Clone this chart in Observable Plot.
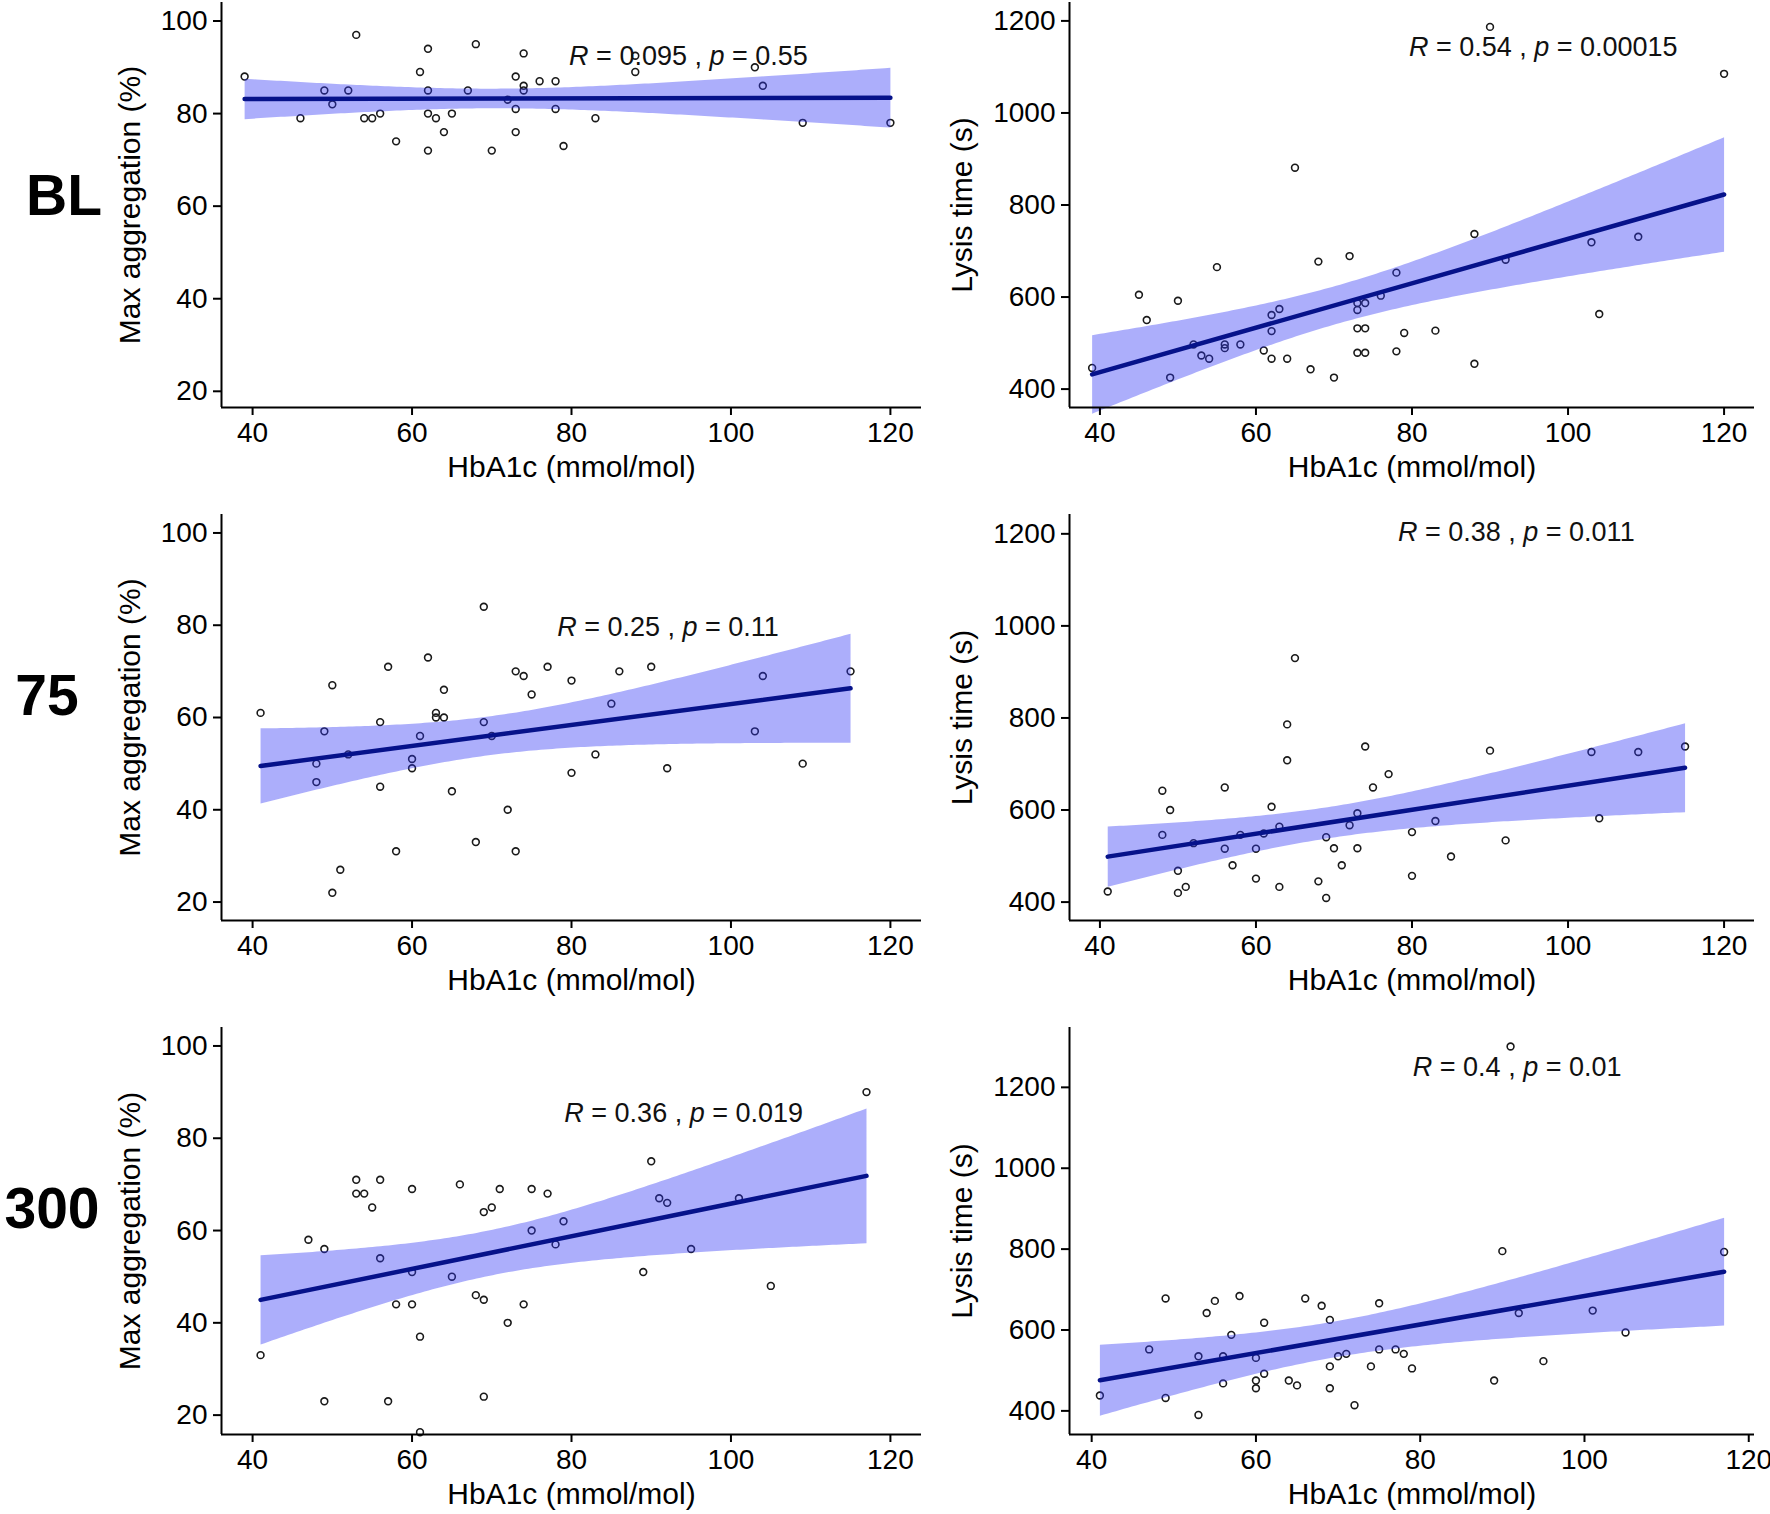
<!DOCTYPE html>
<html>
<head>
<meta charset="utf-8">
<script src="https://cdn.jsdelivr.net/npm/d3@7"></script>
<script src="https://cdn.jsdelivr.net/npm/@observablehq/plot@0.6"></script>
<style>
  html, body { margin: 0; padding: 0; background: #fff; }
  body { width: 1770px; height: 1514px; position: relative; overflow: hidden;
         font-family: "Liberation Sans", Arial, Helvetica, sans-serif; }
  .panel { position: absolute; }
  .rowlab { position: absolute; font-weight: bold; font-size: 57px; line-height: 1;
            transform: translate(-50%, -50%); color: #000; white-space: nowrap; }
</style>
</head>
<body>
<div id="root"></div>
<script>
// ---- categories / labels ----
const rowLabels = ["BL", "75", "300"];
const xTitle = "HbA1c (mmol/mol)";
const yTitles = ["Max aggregation (%)", "Lysis time (s)"];
const xTicks = [40, 60, 80, 100, 120];
const aggTicks = [20, 40, 60, 80, 100];
const lysTicks = [400, 600, 800, 1000, 1200];
const statLabels = [
  "R = 0.095 , p = 0.55",
  "R = 0.54 , p = 0.00015",
  "R = 0.25 , p = 0.11",
  "R = 0.38 , p = 0.011",
  "R = 0.36 , p = 0.019",
  "R = 0.4 , p = 0.01"
];

// ---- BL ----
const blAggX = [39,46,49,50,52,53,54,55,56,58,61,62,62,62,62,63,64,65,67,68,70,72,73,73,73,74,74,74,76,78,78,79,83,88,88,103,104,109,120];
const blAggY = [88,79,85,82,85,97,79,79,80,74,89,94,85,80,72,79,76,80,85,95,72,83,88,81,76,93,86,85,87,87,81,73,79,89,92.5,90,86,78,78];
const blLysX = [39,45,46,49,50,52,53,54,55,56,56,58,61,62,62,62,63,64,65,67,68,70,72,73,73,73,73,74,74,74,76,78,78,79,83,88,88,90,92,103,104,109,120];
const blLysY = [446,605,550,425,592,497,473,466,665,497,489,497,484,561,526,466,574,466,881,443,677,425,689,587,572,532,479,587,532,479,603,653,482,522,527,737,455,1187,681,719,563,731,1085];

// ---- 75 ----
const r75AggX = [41,48,48,49,50,50,51,52,56,56,57,58,60,60,61,62,63,63,64,64,65,68,69,69,70,72,73,73,74,75,77,80,80,83,85,86,90,92,103,104,109,115];
const r75AggY = [61,50,46,57,67,22,27,52,59,45,71,31,51,49,56,73,61,60,66,60,44,33,84,59,56,40,70,31,69,65,71,68,48,52,63,70,71,49,57,69,50,70];
const r75LysX = [41,48,48,49,50,50,51,52,56,56,57,58,60,60,61,62,63,63,64,64,65,68,69,69,70,71,72,73,73,74,75,77,80,80,83,85,90,92,103,104,109,115];
const r75LysY = [423,642,546,600,468,420,433,528,649,516,480,546,516,451,549,607,564,433,786,708,930,445,541,409,517,480,567,593,517,738,649,678,552,457,576,499,729,534,726,582,726,738];

// ---- 300 ----
const r300AggX = [41,47,49,49,53,53,54,55,56,56,57,58,60,60,60,61,61,65,66,68,69,69,69,70,71,72,74,75,75,77,78,79,89,90,91,92,95,101,105,117];
const r300AggY = [33,58,56,23,71,68,68,65,71,54,23,44,69,51,44,37,16.3,50,70,46,64,45,24,65,69,40,44,69,60,68,57,62,51,75,67,66,56,67,48,90];
const r300LysX = [41,47,49,49,53,53,54,55,56,56,57,58,60,60,60,61,61,64,65,66,68,69,69,69,70,71,72,74,75,75,77,78,79,89,90,91,92,95,101,105,117];
const r300LysY = [438,552,678,432,535,390,642,672,535,468,588,684,531,475,456,618,492,475,463,678,660,625,510,456,535,541,414,510,666,552,552,541,505,475,795,1301,642,523,648,594,793];

// ---- layout ----
const rowTop = [2, 514, 1027];
const rowBottom = [407, 920, 1434];
const colLeft = [221, 1069];
const colRight = [921, 1754];
const rowLabelPos = [[64, 195], [47, 695], [52, 1208]];

const panels = [
  {row: 0, col: 0, x: blAggX, y: blAggY, xDomain: [36.1, 123.9], yDomain: [16.5, 104], yTicks: aggTicks, stat: statLabels[0], lx: 79.7, ly: 92.3},
  {row: 0, col: 1, x: blLysX, y: blLysY, xDomain: [36.1, 123.9], yDomain: [360, 1240], yTicks: lysTicks, stat: statLabels[1], lx: 79.6, ly: 1143},
  {row: 1, col: 0, x: r75AggX, y: r75AggY, xDomain: [36.1, 123.9], yDomain: [16, 104], yTicks: aggTicks, stat: statLabels[2], lx: 78.2, ly: 79.6},
  {row: 1, col: 1, x: r75LysX, y: r75LysY, xDomain: [36.1, 123.9], yDomain: [360, 1242], yTicks: lysTicks, stat: statLabels[3], lx: 78.2, ly: 1203},
  {row: 2, col: 0, x: r300AggX, y: r300AggY, xDomain: [36.1, 123.9], yDomain: [15.8, 104], yTicks: aggTicks, stat: statLabels[4], lx: 79.1, ly: 85.3},
  {row: 2, col: 1, x: r300LysX, y: r300LysY, xDomain: [37.3, 120.7], yDomain: [341.6, 1348], yTicks: lysTicks, stat: statLabels[5], lx: 79.1, ly: 1250}
];

const root = document.getElementById("root");
const FONT = "Liberation Sans, Arial, Helvetica, sans-serif";

for (const p of panels) {
  const data = p.x.map((d, i) => ({x: d, y: p.y[i]}));
  const svgLeft = p.col === 0 ? 100 : 919;
  const ml = colLeft[p.col] - svgLeft;
  const mr = p.col === 0 ? 8 : 1770 - colRight[p.col];
  const mt = p.row === 0 ? 2 : 10;
  const mb = 88;
  const fw = colRight[p.col] - colLeft[p.col];
  const fh = rowBottom[p.row] - rowTop[p.row];
  const chart = Plot.plot({
    width: ml + fw + mr,
    height: mt + fh + mb,
    marginLeft: ml, marginRight: mr, marginTop: mt, marginBottom: mb,
    style: {fontFamily: FONT, color: "#000", background: "transparent", overflow: "visible"},
    x: {domain: p.xDomain},
    y: {domain: p.yDomain},
    marks: [
      Plot.dot(data, {x: "x", y: "y", r: 3.4, stroke: "#1a1a1a", strokeWidth: 1.6, fill: "none"}),
      Plot.linearRegressionY(data, {x: "x", y: "y", ci: 0.95, stroke: "#06128a", strokeWidth: 4.5, fill: "#3035f5", fillOpacity: 0.4}),
      Plot.ruleX([p.xDomain[0]], {stroke: "#000", strokeWidth: 2}),
      Plot.ruleY([p.yDomain[0]], {stroke: "#000", strokeWidth: 2}),
      Plot.axisX({ticks: xTicks, tickFormat: d => String(d), tickSize: 8, tickPadding: 7, strokeWidth: 2, fontSize: 28,
                  label: xTitle, labelAnchor: "center", labelArrow: "none", labelOffset: 69}),
      Plot.axisY({ticks: p.yTicks, tickFormat: d => String(d), tickSize: 8, tickPadding: 6, strokeWidth: 2, fontSize: 28,
                  label: yTitles[p.col], labelAnchor: "center", labelArrow: "none",
                  labelOffset: p.col === 0 ? 103 : 119}),
      Plot.text([p.stat], {x: p.lx, y: p.ly, text: d => d, textAnchor: "start", fontSize: 27, fill: "#111"})
    ]
  });
  chart.querySelectorAll("text").forEach(t => {
    const s = t.textContent;
    if (s === xTitle || yTitles.includes(s)) t.setAttribute("font-size", 30);
    const m = s.match(/^R = (.*) , p = (.*)$/);
    if (m) {
      t.textContent = "";
      const ns = "http://www.w3.org/2000/svg";
      const parts = [["R", true], [" = " + m[1] + " , ", false], ["p", true], [" = " + m[2], false]];
      for (const [str, it] of parts) {
        const ts = document.createElementNS(ns, "tspan");
        if (it) ts.setAttribute("font-style", "italic");
        ts.textContent = str;
        t.appendChild(ts);
      }
    }
  });
  const wrap = document.createElement("div");
  wrap.className = "panel";
  wrap.style.left = svgLeft + "px";
  wrap.style.top = (rowTop[p.row] - mt) + "px";
  wrap.appendChild(chart);
  root.appendChild(wrap);
}

rowLabels.forEach((lab, i) => {
  const d = document.createElement("div");
  d.className = "rowlab";
  d.textContent = lab;
  d.style.left = rowLabelPos[i][0] + "px";
  d.style.top = rowLabelPos[i][1] + "px";
  root.appendChild(d);
});
</script>
</body>
</html>
